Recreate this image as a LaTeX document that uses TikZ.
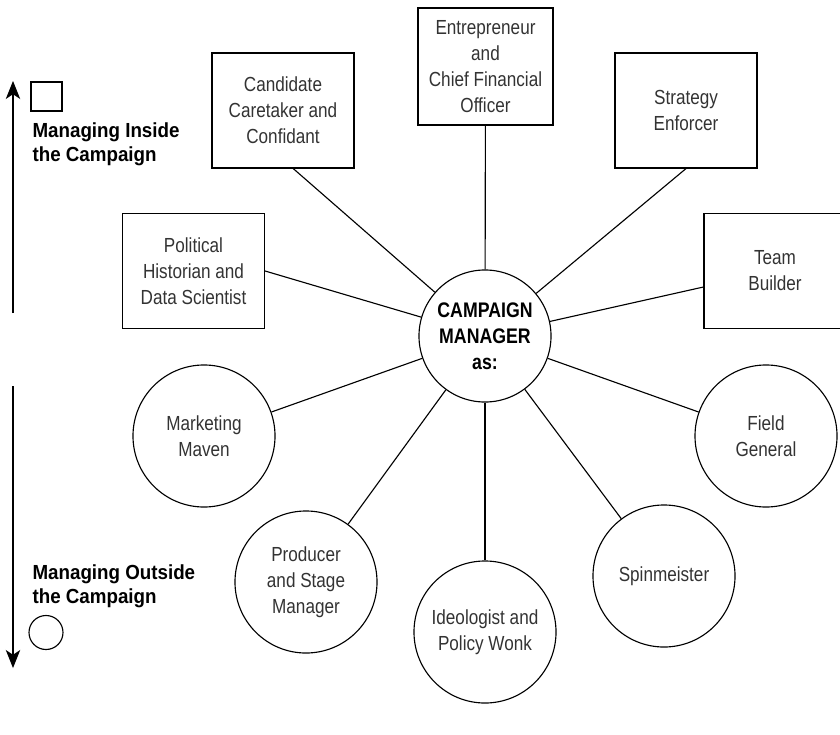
\documentclass[tikz,border=0pt]{standalone}
\usepackage{fontspec}
\setmainfont{Liberation Sans}[FakeStretch=0.84]
\newfontfamily\legendfont{Liberation Sans}[FakeStretch=0.92]
\usetikzlibrary{arrows.meta}

\begin{document}
\begin{tikzpicture}[x=0.025cm,y=-0.025cm,line width=0.8pt,
  role/.style={draw,inner sep=0pt,align=center,text=black!80,font=\fontsize{14.5}{18.5}\selectfont},
  box/.style={role,rectangle,minimum width=3.55cm,minimum height=2.875cm},
  disc/.style={role,circle,minimum size=3.55cm},
  legend/.style={inner sep=0pt,anchor=north west,align=left,font=\legendfont\bfseries\fontsize{14.5}{17.5}\selectfont},
  updown/.style={-{Stealth[length=4.5mm,width=3.6mm,inset=1.2mm]}}]
  \useasboundingbox (0,0) rectangle (840,735);
  % the campaign manager in the middle
  \node[role,circle,minimum size=3.3cm,text=black,font=\bfseries\fontsize{15}{18.5}\selectfont] (cm) at (485,336) {CAMPAIGN\\MANAGER\\as:};
  % roles inside the campaign
  \node[box] (hist) at (193.5,271) {Political\\Historian and\\Data Scientist};
  \node[box] (cand) at (283,110.5) {Candidate\\Caretaker and\\Confidant};
  \node[box,minimum width=3.375cm,minimum height=2.925cm] (entr) at (485.5,66.5) {Entrepreneur\\and\\Chief Financial\\Officer};
  \node[box] (strat) at (686,110.5) {Strategy\\Enforcer};
  \node[box] (team) at (775,271) {Team\\Builder};
  % roles outside the campaign
  \node[disc] (mark) at (204,436) {Marketing\\Maven};
  \node[disc] (prod) at (306,582) {Producer\\and Stage\\Manager};
  \node[disc] (ideo) at (485,632) {Ideologist and\\Policy Wonk};
  \node[disc] (spin) at (664,576) {Spinmeister};
  \node[disc] (field) at (766,436) {Field\\General};
  \draw (cm)--(hist.east);
  \draw (cm)--(cand.-80);
  \draw (cm)--(entr);
  \draw (cm)--(strat.south);
  \draw (cm)--(team);
  \draw (cm)--(mark);
  \draw (cm)--(prod);
  \draw (cm)--(ideo);
  \draw (cm)--(spin);
  \draw (cm)--(field);
  % legend
  \node[draw,inner sep=0pt,minimum width=0.775cm,minimum height=0.725cm] (sq) at (46.5,96.5) {};
  \node[legend] (inside) at (32,122) {Managing Inside\\the Campaign};
  \node[legend] (outside) at (32,564) {Managing Outside\\the Campaign};
  \node[draw,circle,inner sep=0pt,minimum size=0.85cm] (ci) at (46,632.5) {};
  \coordinate (inbot) at (13,313);
  \coordinate (intop) at (13,81);
  \coordinate (outtop) at (13,386);
  \coordinate (outbot) at (13,668);
  \draw[updown] (inbot)--(intop);
  \draw[updown] (outtop)--(outbot);
\end{tikzpicture}
\end{document}
